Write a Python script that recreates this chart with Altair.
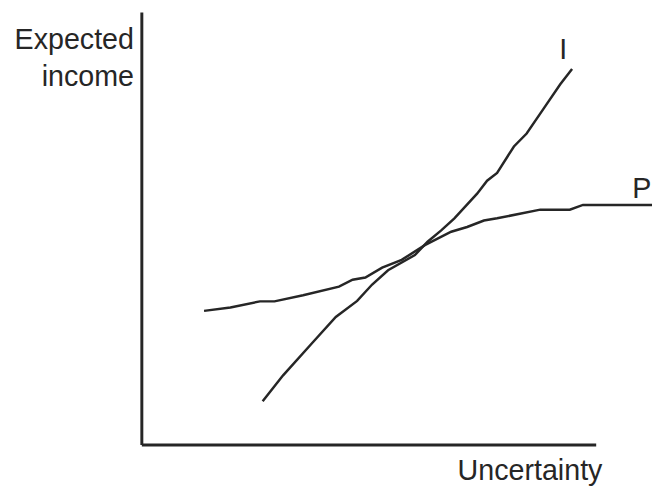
import altair as alt
import pandas as pd

# Curve I (income), axis units 0..100
i_x = [26.7, 31.2, 37.8, 42.8, 47.5, 50.8, 54.3, 60.2, 63.0, 66.0, 68.9, 73.9, 76.1, 78.3, 82.0, 84.8, 88.5, 92.2, 94.8]
i_y = [10.0, 16.0, 23.7, 29.5, 33.2, 37.0, 40.3, 43.8, 46.9, 49.5, 52.3, 58.0, 61.0, 62.8, 68.9, 71.9, 77.6, 83.3, 86.8]

# Curve P
p_x = [13.8, 19.6, 26.1, 29.3, 35.6, 43.5, 46.5, 49.3, 53.0, 57.3, 62.4, 68.2, 71.7, 75.4, 78.3, 87.8, 94.3, 97.2, 112.4]
p_y = [30.9, 31.7, 33.1, 33.1, 34.5, 36.5, 38.1, 38.6, 40.9, 42.7, 46.1, 49.2, 50.3, 51.8, 52.3, 54.3, 54.3, 55.4, 55.4]

series_names = ["I", "P"]
x_title = "Uncertainty"
y_title = ["Expected", "income"]

df = pd.concat([
    pd.DataFrame({"x": i_x, "y": i_y, "s": "I", "o": range(len(i_x))}),
    pd.DataFrame({"x": p_x, "y": p_y, "s": "P", "o": range(len(p_x))}),
])

ink = "#262626"
font = "Liberation Sans"

xs = alt.Scale(domain=[0, 100], nice=False, zero=False)
ys = alt.Scale(domain=[0, 100], nice=False, zero=False)

x_axis = alt.Axis(title=x_title, ticks=False, labels=False, grid=False,
                  domainColor=ink, domainWidth=3,
                  titleFont=font, titleFontSize=29, titleFontWeight="normal", titleColor=ink,
                  titleAlign="center", titleBaseline="alphabetic", titleX=393, titleY=35)
y_axis = alt.Axis(title=y_title, ticks=False, labels=False, grid=False,
                  domainColor=ink, domainWidth=3,
                  titleFont=font, titleFontSize=29, titleFontWeight="normal", titleColor=ink,
                  titleAngle=0, titleAlign="right", titleBaseline="alphabetic",
                  titleX=-8, titleY=37, titleLineHeight=37)

lines = alt.Chart(df).mark_line(color=ink, strokeWidth=2.5).encode(
    x=alt.X("x:Q", scale=xs, axis=x_axis),
    y=alt.Y("y:Q", scale=ys, axis=y_axis),
    detail="s:N",
    order="o:Q",
)

lab_i = pd.DataFrame({"x": [i_x[-1]], "y": [i_y[-1]], "t": [series_names[0]]})
lab_p = pd.DataFrame({"x": [p_x[-1]], "y": [p_y[-1]], "t": [series_names[1]]})

text_i = alt.Chart(lab_i).mark_text(font=font, fontSize=29, color=ink, align="center",
                                    baseline="alphabetic", dx=-9, dy=-10).encode(
    x=alt.X("x:Q", scale=xs), y=alt.Y("y:Q", scale=ys), text="t:N")
text_p = alt.Chart(lab_p).mark_text(font=font, fontSize=29, color=ink, align="left",
                                    baseline="alphabetic", dx=-20, dy=-7).encode(
    x=alt.X("x:Q", scale=xs), y=alt.Y("y:Q", scale=ys), text="t:N")

chart = alt.layer(lines, text_i, text_p).properties(
    width=460, height=438,
    autosize=alt.AutoSizeParams(type="none"),
    padding={"left": 135, "top": 1, "right": 57, "bottom": 44},
    background="white",
).configure_view(stroke=None)

chart.save("out.html", embed_options={"renderer": "svg", "actions": False})
